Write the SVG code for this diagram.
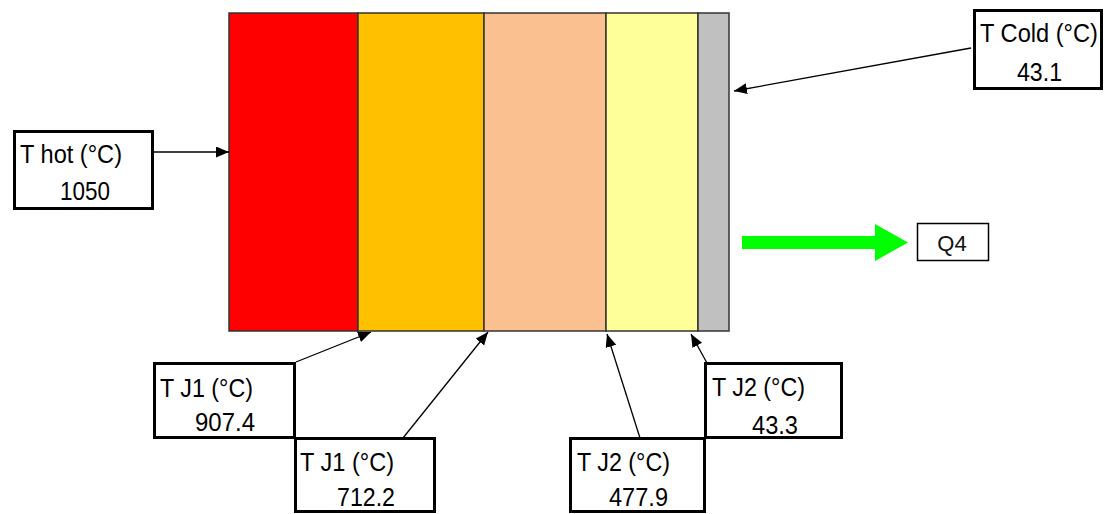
<svg xmlns="http://www.w3.org/2000/svg" width="1104" height="514" viewBox="0 0 1104 514">
<defs>
<style>
.box{fill:#fff;stroke:#000;stroke-width:3}
.t{font-family:"Liberation Sans",Arial,sans-serif;font-size:25px;fill:#000}
.layer{stroke:#333;stroke-width:1.5}
.conn{stroke:#000;stroke-width:1.3;fill:none;marker-end:url(#ah)}
</style>
<marker id="ah" markerUnits="userSpaceOnUse" markerWidth="14" markerHeight="12" refX="13" refY="5.5" orient="auto">
<path d="M0,0 L13,5.5 L0,11 Z" fill="#000"/>
</marker>
</defs>
<rect width="1104" height="514" fill="#fff"/>
<g id="wall">
<rect class="layer" x="229" y="13" width="129" height="318" fill="#ff0000"/>
<rect class="layer" x="358" y="13" width="126" height="318" fill="#ffc000"/>
<rect class="layer" x="484" y="13" width="122" height="318" fill="#fac090"/>
<rect class="layer" x="606" y="13" width="92" height="318" fill="#ffff99"/>
<rect class="layer" x="698" y="13" width="31" height="318" fill="#c0c0c0"/>
</g>
<g id="connectors">
<line class="conn" x1="143" y1="152" x2="229" y2="152"/>
<line class="conn" x1="971" y1="48" x2="734" y2="91"/>
<line class="conn" x1="296" y1="362" x2="371" y2="332"/>
<line class="conn" x1="403" y1="438" x2="488" y2="332"/>
<line class="conn" x1="640" y1="438" x2="607" y2="334"/>
<line class="conn" x1="707" y1="363" x2="691" y2="334"/>
<path id="q-arrow" d="M742,236 L875,236 L875,224 L908,242.5 L875,261 L875,249 L742,249 Z" fill="#00ff00"/>
</g>
<g id="t-hot">
<rect class="box" x="14.5" y="131.5" width="138" height="77"/>
<text class="t" x="20" y="163" textLength="102" lengthAdjust="spacingAndGlyphs">T hot (°C)</text>
<text class="t" x="60" y="200" textLength="50" lengthAdjust="spacingAndGlyphs">1050</text>
</g>
<g id="t-cold">
<rect class="box" x="974.5" y="10.5" width="127" height="78"/>
<text class="t" x="980" y="42" textLength="118" lengthAdjust="spacingAndGlyphs">T Cold (°C)</text>
<text class="t" x="1017" y="81" textLength="45" lengthAdjust="spacingAndGlyphs">43.1</text>
</g>
<g id="q4">
<rect x="917.5" y="223.5" width="71" height="37" fill="#fff" stroke="#000" stroke-width="1.5"/>
<text x="952" y="251" text-anchor="middle" font-family="'Liberation Sans',Arial,sans-serif" font-size="22" fill="#111">Q4</text>
</g>
<g id="tj1-a">
<rect class="box" x="154.5" y="363.5" width="140" height="74"/>
<text class="t" x="160" y="397" textLength="93" lengthAdjust="spacingAndGlyphs">T J1 (°C)</text>
<text class="t" x="195" y="431" textLength="60" lengthAdjust="spacingAndGlyphs">907.4</text>
</g>
<g id="tj1-b">
<rect class="box" x="295.5" y="438.5" width="139" height="73"/>
<text class="t" x="300" y="471" textLength="94" lengthAdjust="spacingAndGlyphs">T J1 (°C)</text>
<text class="t" x="337" y="506" textLength="58" lengthAdjust="spacingAndGlyphs">712.2</text>
</g>
<g id="tj2-a">
<rect class="box" x="570.5" y="438.5" width="134" height="73"/>
<text class="t" x="577" y="471" textLength="93" lengthAdjust="spacingAndGlyphs">T J2 (°C)</text>
<text class="t" x="609" y="506" textLength="59" lengthAdjust="spacingAndGlyphs">477.9</text>
</g>
<g id="tj2-b">
<rect class="box" x="705.5" y="363.5" width="136" height="74"/>
<text class="t" x="712" y="396" textLength="93" lengthAdjust="spacingAndGlyphs">T J2 (°C)</text>
<text class="t" x="752" y="434" textLength="46" lengthAdjust="spacingAndGlyphs">43.3</text>
</g>
</svg>
